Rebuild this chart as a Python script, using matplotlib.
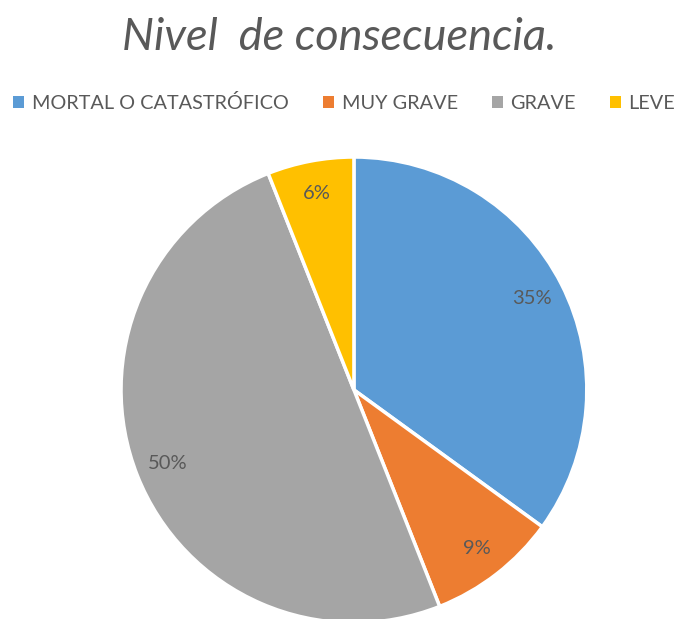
import matplotlib
matplotlib.use("Agg")
import matplotlib.pyplot as plt
from matplotlib.patches import Patch

categories = ['MORTAL O CATASTRÓFICO', 'MUY GRAVE', 'GRAVE', 'LEVE']
values = [35, 9, 50, 6]
colors = ['#5B9BD5', '#ED7D31', '#A5A5A5', '#FFC000']
text_color = '#595959'

plt.rcParams['font.family'] = ['Lato', 'DejaVu Sans']

fig = plt.figure(figsize=(6.78, 6.19), dpi=100)
ax = fig.add_axes([0.1785, -0.0064, 0.687, 0.753])

wedges, texts, autotexts = ax.pie(values, colors=colors, startangle=90, counterclock=False,
                                  autopct='%1.0f%%', pctdistance=0.86,
                                  wedgeprops=dict(edgecolor='white', linewidth=2.5),
                                  textprops=dict(color=text_color, fontsize=14.5))
ax.set_xlim(-1, 1)
ax.set_ylim(-1, 1)
ax.set_aspect('equal')
ax.axis('off')

fig.text(0.5, 0.94, 'Nivel  de consecuencia.', ha='center', va='center',
         fontsize=32.5, style='italic', color=text_color)

handles = [Patch(facecolor=c, edgecolor='none') for c in colors]
fig.legend(handles, categories, loc='center', bbox_to_anchor=(0.508, 0.834), ncol=4,
           frameon=False, fontsize=14.3, labelcolor=text_color,
           handlelength=0.55, handleheight=0.55, handletextpad=0.4, columnspacing=1.7)

fig.savefig('out.png', dpi=100)
